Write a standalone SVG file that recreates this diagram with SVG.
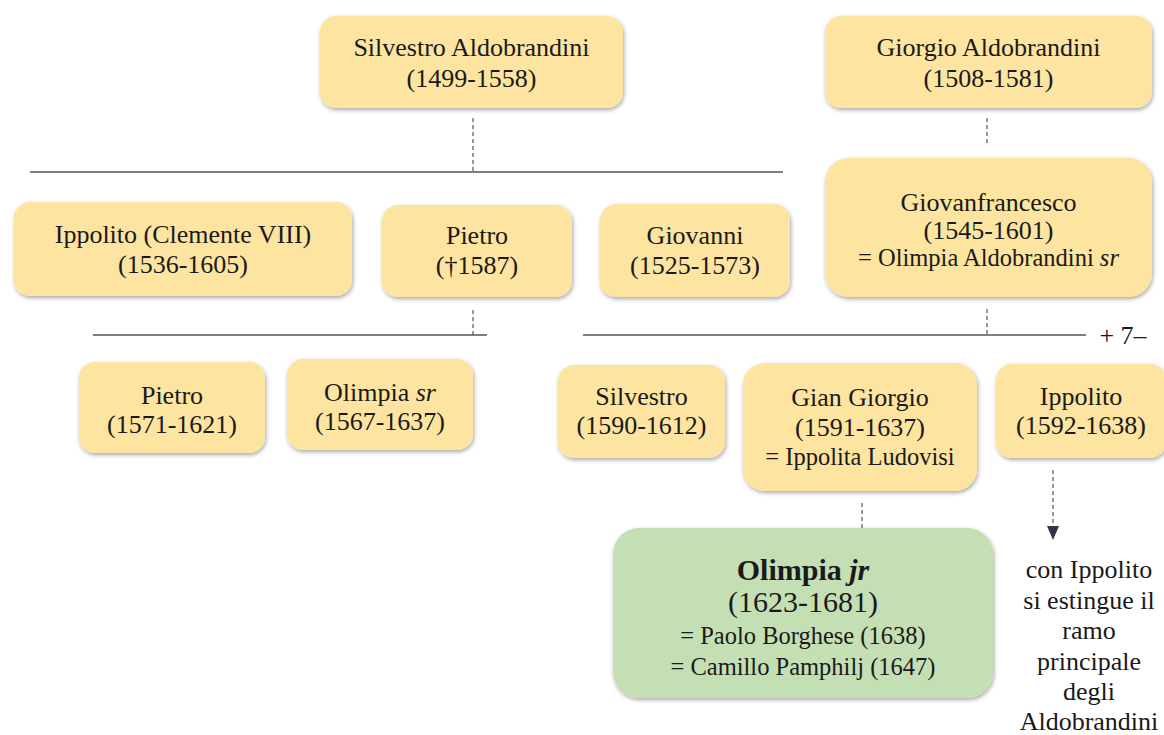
<svg xmlns="http://www.w3.org/2000/svg" width="1164" height="735" viewBox="0 0 1164 735">
  <defs>
    <filter id="shadow" x="-10%" y="-15%" width="120%" height="135%">
      <feDropShadow dx="1" dy="2" stdDeviation="2.2" flood-color="#000" flood-opacity="0.35"/>
    </filter>
    <marker id="arrow" viewBox="0 0 14 12" refX="1" refY="6" markerWidth="14" markerHeight="12" markerUnits="userSpaceOnUse" orient="auto">
      <path d="M0,0 L14,6 L0,12 Z" fill="#2f3547"/>
    </marker>
  </defs>
  <style>
    .box { fill: #fde4a0; filter: url(#shadow); }
    .green { fill: #c5dfb5; filter: url(#shadow); }
    text { font-family: Liberation Serif, Tinos, DejaVu Serif, serif; fill: #1a1a1a; text-anchor: middle; }
    .t { font-size: 26px; }
    .s { font-size: 24.5px; }
    .b { font-size: 30px; }
    .gen { stroke: #4f5565; stroke-width: 1.6; fill: none; }
    .dash { stroke: #333; stroke-width: 1; stroke-dasharray: 4 3; fill: none; }
  </style>
  <rect width="1164" height="735" fill="#ffffff"/>

  <!-- connectors -->
  <g id="connectors">
    <line class="dash" x1="473" y1="118" x2="473" y2="172"/>
    <line class="gen" x1="30" y1="172" x2="783" y2="172"/>
    <line class="dash" x1="987" y1="118" x2="987" y2="145"/>
    <line class="dash" x1="473" y1="310" x2="473" y2="335"/>
    <line class="gen" x1="93" y1="335" x2="487" y2="335"/>
    <line class="dash" x1="987" y1="309" x2="987" y2="335"/>
    <line class="gen" x1="583" y1="335" x2="1086" y2="335"/>
    <line class="dash" x1="862" y1="503" x2="862" y2="528"/>
    <line class="dash" x1="1053" y1="470" x2="1053" y2="527" stroke="#2f3547" stroke-width="1.8" marker-end="url(#arrow)"/>
  </g>

  <g id="silvestro-sr">
    <rect class="box" x="320" y="16" width="303" height="92" rx="16"/>
    <text class="t" x="471.5" y="56">Silvestro Aldobrandini</text>
    <text class="t" x="471.5" y="87">(1499-1558)</text>
  </g>

  <g id="giorgio">
    <rect class="box" x="825" y="16" width="327" height="92" rx="16"/>
    <text class="t" x="988.5" y="56">Giorgio Aldobrandini</text>
    <text class="t" x="988.5" y="87">(1508-1581)</text>
  </g>

  <g id="ippolito-clemente">
    <rect class="box" x="14" y="202" width="338" height="94" rx="16"/>
    <text class="t" x="183" y="243">Ippolito (Clemente VIII)</text>
    <text class="t" x="183" y="273">(1536-1605)</text>
  </g>

  <g id="pietro-sr">
    <rect class="box" x="382" y="205" width="190" height="92" rx="16"/>
    <text class="t" x="477" y="244">Pietro</text>
    <text class="t" x="477" y="274">(†1587)</text>
  </g>

  <g id="giovanni">
    <rect class="box" x="600" y="204" width="190" height="93" rx="16"/>
    <text class="t" x="695" y="244">Giovanni</text>
    <text class="t" x="695" y="274">(1525-1573)</text>
  </g>

  <g id="giovanfrancesco">
    <rect class="box" x="825" y="158" width="327" height="139" rx="24"/>
    <text class="t" x="988.5" y="211">Giovanfrancesco</text>
    <text class="t" x="988.5" y="239">(1545-1601)</text>
    <text class="s" x="988.5" y="266">= Olimpia Aldobrandini <tspan font-style="italic">sr</tspan></text>
  </g>

  <text class="t" x="1123" y="344">+ 7–</text>

  <g id="pietro-jr">
    <rect class="box" x="79" y="362" width="186" height="91" rx="16"/>
    <text class="t" x="172" y="404">Pietro</text>
    <text class="t" x="172" y="433">(1571-1621)</text>
  </g>

  <g id="olimpia-sr">
    <rect class="box" x="287" y="359" width="186" height="91" rx="16"/>
    <text class="t" x="380" y="401">Olimpia <tspan font-style="italic">sr</tspan></text>
    <text class="t" x="380" y="430">(1567-1637)</text>
  </g>

  <g id="silvestro-jr">
    <rect class="box" x="558" y="365" width="167" height="93" rx="16"/>
    <text class="t" x="641.5" y="405">Silvestro</text>
    <text class="t" x="641.5" y="434">(1590-1612)</text>
  </g>

  <g id="gian-giorgio">
    <rect class="box" x="743" y="363" width="234" height="128" rx="22"/>
    <text class="t" x="860" y="406">Gian Giorgio</text>
    <text class="t" x="860" y="436">(1591-1637)</text>
    <text class="s" x="860" y="465">= Ippolita Ludovisi</text>
  </g>

  <g id="ippolito-jr">
    <rect class="box" x="996" y="364" width="170" height="94" rx="16"/>
    <text class="t" x="1081" y="405">Ippolito</text>
    <text class="t" x="1081" y="434">(1592-1638)</text>
  </g>

  <g id="olimpia-jr">
    <rect class="green" x="613" y="528" width="380" height="170" rx="26"/>
    <text class="b" x="803" y="580" font-weight="bold">Olimpia <tspan font-style="italic">jr</tspan></text>
    <text class="b" x="803" y="612">(1623-1681)</text>
    <text class="s" x="803" y="644">= Paolo Borghese (1638)</text>
    <text class="s" x="803" y="675">= Camillo Pamphilj (1647)</text>
  </g>

  <g id="note">
    <text class="t" x="1089" y="578">con Ippolito</text>
    <text class="t" x="1089" y="609">si estingue il</text>
    <text class="t" x="1089" y="639">ramo</text>
    <text class="t" x="1089" y="670">principale</text>
    <text class="t" x="1089" y="700">degli</text>
    <text class="t" x="1089" y="730">Aldobrandini</text>
  </g>
</svg>
